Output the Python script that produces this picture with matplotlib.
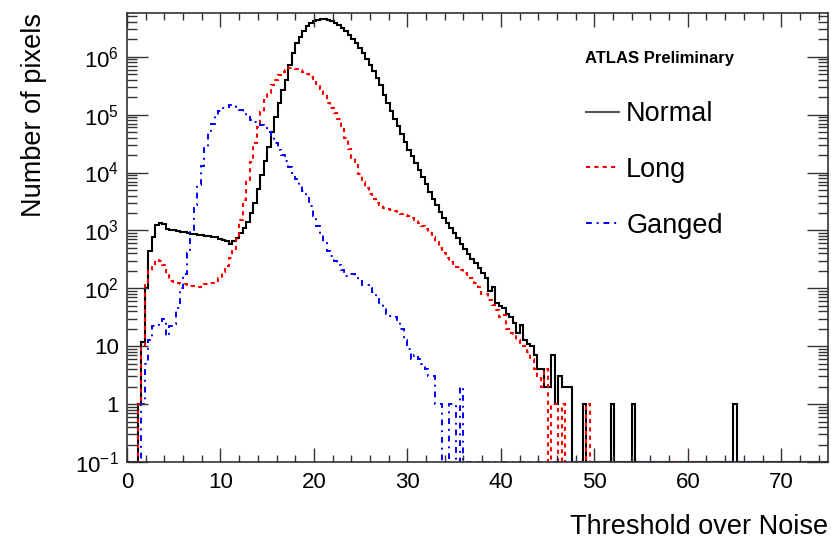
import numpy as np
import matplotlib
matplotlib.use('Agg')
import matplotlib.pyplot as plt
from matplotlib.lines import Line2D
from matplotlib.ticker import FixedLocator, LogLocator, MultipleLocator, FuncFormatter

plt.rcParams['font.family'] = ['Liberation Sans', 'DejaVu Sans']
plt.rcParams['mathtext.default'] = 'regular'

# histogram binning: 200 bins from 0 to 75
n_bins = 200
x_min, x_max = 0, 75

# Normal pixels, bins 0..126 (the rest are empty apart from single counts)
normal = [0, 0, 0, 1, 12, 100, 450, 760, 1250, 1350,
          1300, 1050, 1000, 1000, 980, 950, 950, 900, 880, 870,
          830, 820, 800, 790, 780, 760, 700, 680, 660, 590,
          670, 750, 900, 1100, 1400, 2000, 3000, 5300, 9000, 16000,
          27500, 50000, 91000, 156000, 263000, 4.0e5, 7.1e5, 1.15e6, 1.7e6, 2.2e6,
          2.8e6, 3.4e6, 3.8e6, 4.15e6, 4.4e6, 4.55e6, 4.55e6, 4.4e6, 4.2e6, 3.9e6,
          3.5e6, 3.15e6, 2.75e6, 2.4e6, 2.05e6, 1.7e6, 1.4e6, 1.15e6, 9.3e5, 7.2e5,
          5.6e5, 4.3e5, 3.2e5, 2.2e5, 1.6e5, 1.15e5, 8.3e4, 6.3e4, 4.7e4, 3.4e4,
          2.5e4, 1.9e4, 1.45e4, 1.1e4, 8300, 6300, 4600, 3500, 2700, 2100,
          1660, 1350, 1120, 910, 740, 590, 480, 390, 316, 270,
          224, 182, 151, 91, 105, 56, 50, 45, 36, 32,
          25, 17, 23, 13, 11, 10, 7, 4, 4, 2,
          2, 7, 1, 3, 2, 2, 2]
normal_single_bins = [130, 138, 144, 173]

# Long pixels, bins 0..131
long_px = [0, 0, 0, 1, 10, 120, 200, 260, 310, 300,
           250, 178, 135, 125, 122, 120, 118, 115, 110, 105,
           105, 115, 120, 122, 123, 125, 150, 190, 240, 330,
           450, 700, 1500, 3300, 7400, 1.5e4, 3.2e4, 6.2e4, 1.1e5, 1.8e5,
           2.4e5, 3.2e5, 4.0e5, 4.8e5, 5.4e5, 5.9e5, 6.3e5, 6.3e5, 6.2e5, 5.9e5,
           5.5e5, 5.0e5, 4.5e5, 4.0e5, 3.4e5, 2.75e5, 2.1e5, 1.6e5, 1.3e5, 1.05e5,
           8.5e4, 6.3e4, 4.0e4, 2.6e4, 1.8e4, 1.35e4, 9500, 7000, 5400, 4300,
           3500, 3000, 2700, 2450, 2350, 2250, 2150, 2050, 1950, 1850,
           1780, 1660, 1510, 1350, 1200, 1050, 910, 760, 620, 500,
           410, 340, 280, 250, 230, 210, 186, 166, 148, 126,
           105, 80, 80, 62, 52, 42, 32, 35, 20, 17,
           16, 13, 11, 10, 8, 6, 4, 3, 2, 4,
           0, 1, 1, 0, 1, 0, 0, 0, 0, 0,
           0, 1]

# Ganged pixels, bins 0..95
ganged = [0, 0, 0, 0, 1, 5, 13, 22, 22, 25,
          29, 15, 22, 24, 45, 100, 180, 400, 1000, 2800,
          6000, 1.3e4, 2.8e4, 4.8e4, 7.0e4, 9.5e4, 1.15e5, 1.3e5, 1.38e5, 1.45e5,
          1.45e5, 1.35e5, 1.2e5, 1.05e5, 9.1e4, 8.1e4, 7.4e4, 6.9e4, 6.5e4, 5.9e4,
          5.1e4, 4.2e4, 3.3e4, 2.5e4, 2.0e4, 1.6e4, 1.26e4, 1.0e4, 7600, 6000,
          4800, 3600, 2600, 1800, 1200, 850, 600, 450, 355, 295,
          250, 210, 166, 178, 174, 158, 132, 112, 112, 100,
          85, 71, 54, 45, 36, 33, 32, 26, 20, 13,
          9, 6, 7, 6, 5, 4, 3, 3, 1, 1,
          0, 0, 1, 1, 0, 2]

series_names = ['Normal', 'Long', 'Ganged']
y_min, y_max = 0.1, 5.7e6

edges = np.linspace(x_min, x_max, n_bins + 1)


def full_hist(vals, singles=()):
    h = np.zeros(n_bins)
    h[:len(vals)] = vals
    for b in singles:
        h[b] = 1
    # empty bins are drawn on the lower frame, as ROOT does
    return np.where(h > 0, h, y_min)


h_normal = full_hist(normal, normal_single_bins)
h_long = full_hist(long_px)
h_ganged = full_hist(ganged)

fig = plt.figure(figsize=(8.31, 5.39), dpi=100)
ax = fig.add_axes([127 / 831, 1 - 462 / 539, 701 / 831, 449 / 539])

styles = [dict(color='black', lw=1.5, ls='-'),
          dict(color='#ff0000', lw=1.5, ls=(0, (2, 2))),
          dict(color='#0000ff', lw=1.4, ls=(0, (3, 2.5, 1, 2.5)))]

for h, st in zip([h_normal, h_long, h_ganged], styles):
    ax.stairs(h, edges, baseline=None, color=st['color'], linewidth=st['lw'],
              linestyle=st['ls'])

ax.set_yscale('log')
ax.set_xlim(x_min, x_max)
ax.set_ylim(y_min, y_max)

ax.xaxis.set_major_locator(MultipleLocator(10))
ax.xaxis.set_minor_locator(MultipleLocator(2))
ax.yaxis.set_major_locator(FixedLocator([1e-1, 1, 10, 1e2, 1e3, 1e4, 1e5, 1e6]))
ax.yaxis.set_minor_locator(LogLocator(base=10, subs=np.arange(2, 10), numticks=20))


def ylab(v, pos):
    e = int(round(np.log10(v)))
    if e == 0:
        return '1'
    if e == 1:
        return '10'
    return r'$10^{%d}$' % e


ax.yaxis.set_major_formatter(FuncFormatter(ylab))
ax.yaxis.set_minor_formatter(FuncFormatter(lambda v, p: ''))

ax.tick_params(axis='both', which='both', direction='in', top=True, right=True,
               labelsize=16, color='#333333')
ax.tick_params(axis='x', which='major', length=10, width=1.0, pad=7)
ax.tick_params(axis='x', which='minor', length=5, width=1.0)
ax.tick_params(axis='y', which='major', length=15, width=1.0, pad=6)
ax.tick_params(axis='y', which='minor', length=7.5, width=1.0)
for s in ax.spines.values():
    s.set_linewidth(1.2)
    s.set_color('#333333')

ax.set_xlabel('Threshold over Noise', fontsize=19.5, loc='right', labelpad=15)
ax.set_ylabel('Number of pixels', fontsize=19.5, loc='top', labelpad=20)

ax.text(0.653, 0.898, 'ATLAS Preliminary', transform=ax.transAxes, fontsize=12,
        fontweight='bold', va='center', ha='left')

handles = [Line2D([], [], color=st['color'], lw=st['lw'], ls=st['ls']) for st in styles]
handles[0].set_color('#555555')
ax.legend(handles, series_names, loc='upper left', bbox_to_anchor=(0.655, 0.804),
          frameon=False, fontsize=19.5, handlelength=1.22, handletextpad=0.26,
          labelspacing=1.1, borderaxespad=0, borderpad=0)

fig.savefig('out.png', dpi=100)
